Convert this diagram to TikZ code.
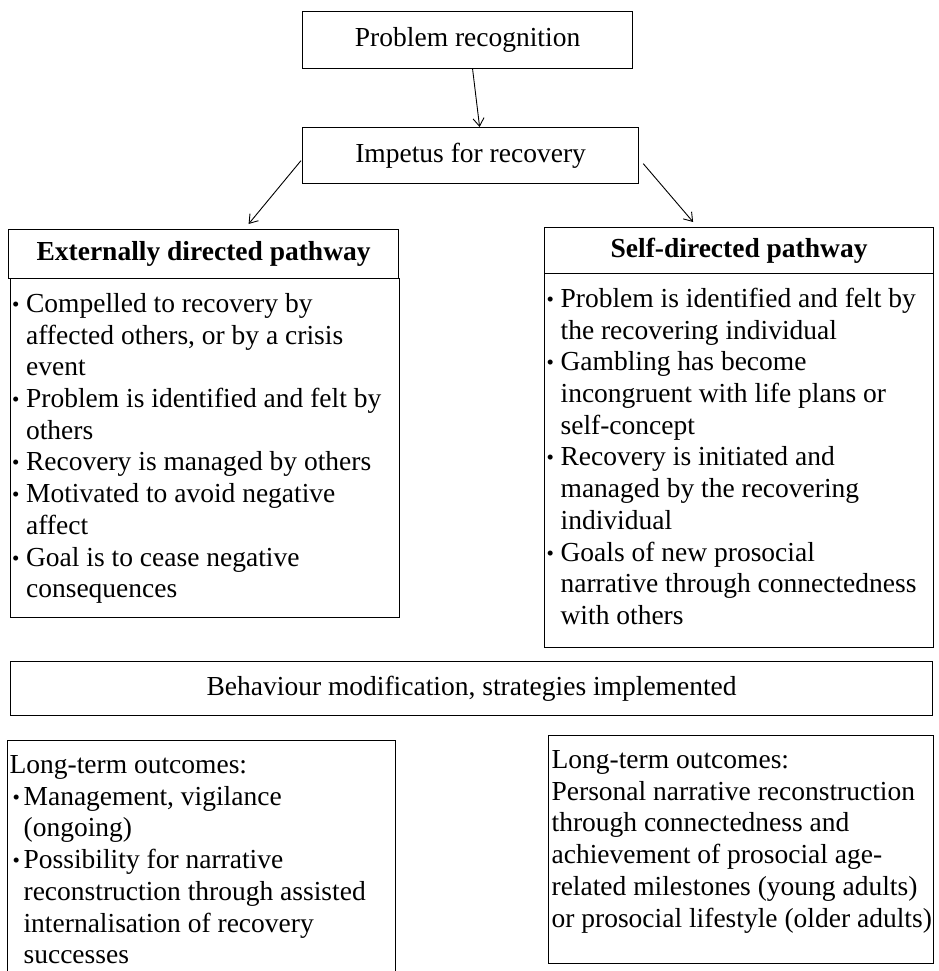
\documentclass[tikz,border=0pt]{standalone}
\usepackage{fontspec}
\setmainfont{Liberation Serif}
\usetikzlibrary{arrows.meta,calc}
\newcommand\mybul[1]{\makebox[14pt][l]{\hspace*{#1}\raisebox{1pt}{\fontsize{21}{21}\selectfont\textbullet}}}
\newcommand\myind{\hspace*{14pt}}
\begin{document}
\begin{tikzpicture}[x=1pt,y=-1pt,
  txt/.style={font=\fontsize{27.5}{31.7}\selectfont},
  box/.style={txt,draw,line width=1.2pt,inner sep=0pt,anchor=north west},
  hdr/.style={box,font=\fontsize{27.5}{31.7}\selectfont\bfseries},
  arr/.style={line width=0.9pt,-{Straight Barb[length=8pt,width=11pt,line width=0.9pt]}}]
\useasboundingbox (0,0) rectangle (938,971);
\clip (0,0) rectangle (938,971);

\node[box,minimum width=330pt,minimum height=57pt] (pr) at (302,11) {Problem recognition};
\node[box,minimum width=336pt,minimum height=56pt] (imp) at (302,127) {Impetus for recovery};
\node[hdr,minimum width=390pt,minimum height=49pt] (exth) at (8,229) {Externally directed pathway};
\node[hdr,minimum width=389pt,minimum height=46pt] (selfh) at (544,227) {Self-directed pathway};

\node[box] (extb) at (10,278) {\parbox[c][339pt][t]{389pt}{\vspace*{11.7pt}\hspace*{1.5pt}\begin{tabular}[t]{@{}l@{}}
\mybul{0pt}Compelled to recovery by\\
\myind affected others, or by a crisis\\
\myind event\\
\mybul{0pt}Problem is identified and felt by\\
\myind others\\
\mybul{0pt}Recovery is managed by others\\
\mybul{0pt}Motivated to avoid negative\\
\myind affect\\
\mybul{0pt}Goal is to cease negative\\
\myind consequences
\end{tabular}}};

\node[box] (selfb) at (544,273) {\parbox[c][374pt][t]{389pt}{\vspace*{11.7pt}\hspace*{2pt}\begin{tabular}[t]{@{}l@{}}
\mybul{0pt}Problem is identified and felt by\\
\myind the recovering individual\\
\mybul{0pt}Gambling has become\\
\myind incongruent with life plans or\\
\myind self-concept\\
\mybul{0pt}Recovery is initiated and\\
\myind managed by the recovering\\
\myind individual\\
\mybul{0pt}Goals of new prosocial\\
\myind narrative through connectedness\\
\myind with others
\end{tabular}}};

\node[box,minimum width=922pt,minimum height=54pt] (beh) at (10,661) {Behaviour modification, strategies implemented};

\node[box] (ltl) at (7,740) {\parbox[c][260pt][t]{388pt}{\vspace*{10.7pt}\hspace*{2pt}\begin{tabular}[t]{@{}l@{}}
Long-term outcomes:\\
\mybul{3pt}Management, vigilance\\
\myind (ongoing)\\
\mybul{3pt}Possibility for narrative\\
\myind reconstruction through assisted\\
\myind internalisation of recovery\\
\myind successes
\end{tabular}}};

\node[box] (ltr) at (548,735) {\parbox[c][228pt][t]{385pt}{\vspace*{10.7pt}\hspace*{3pt}\begin{tabular}[t]{@{}l@{}}
Long-term outcomes:\\
Personal narrative reconstruction\\
through connectedness and\\
achievement of prosocial age-\\
related milestones (young adults)\\
or prosocial lifestyle (older adults)
\end{tabular}}};

\draw[arr] ($(pr.south)+(5,0)$) -- ($(imp.north)+(9,0)$);
\draw[arr] ($(imp.west)+(-1,5)$) -- ($(exth.north)+(45,-5)$);
\draw[arr] ($(imp.east)+(4,8)$) -- ($(selfh.north)+(-46,-5)$);
\end{tikzpicture}
\end{document}
